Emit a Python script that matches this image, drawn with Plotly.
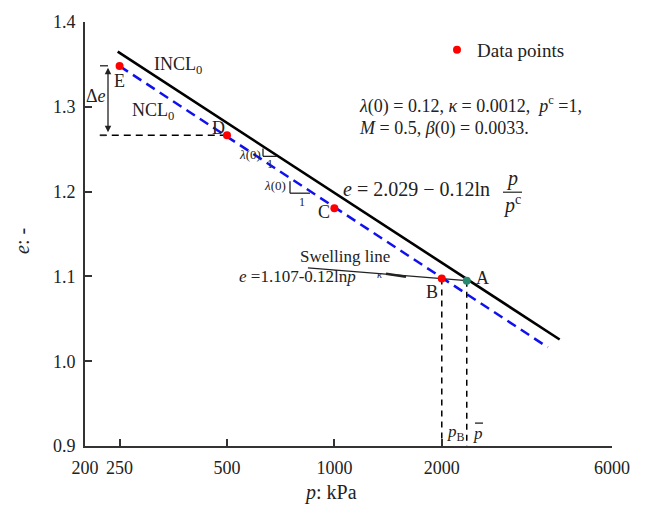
import plotly.graph_objects as go

# ---- data ----
pt_labels = ["E", "D", "C", "B"]
pt_p = [250, 500, 1000, 2000]
pt_e = [1.348, 1.2665, 1.1805, 1.0975]

pointA_p = [2350]
pointA_e = [1.095]

incl_p = [247, 4280]
incl_e = [1.365, 1.0256]

ncl_p = [250, 3965]
ncl_e = [1.348, 1.0164]

swell_p = [843, 2350]
swell_e = [1.110, 1.095]

xtick_vals = [200, 250, 500, 1000, 2000, 6000]
xtick_text = ["200", "250", "500", "1000", "2000", "6000"]
ytick_vals = [0.9, 1.0, 1.1, 1.2, 1.3, 1.4]

W, H = 646, 509
L, R, T, B = 85, 34, 20, 63
PW, PH = W - L - R, H - T - B
FONT = "Liberation Serif"


def px(x):
    return (x - L) / PW


def py(y):
    return (H - B - y) / PH


fig = go.Figure()

fig.add_trace(go.Scatter(x=incl_p, y=incl_e, mode="lines",
                         line=dict(color="black", width=2.6), showlegend=False))
fig.add_trace(go.Scatter(x=ncl_p, y=ncl_e, mode="lines",
                         line=dict(color="#1010ee", width=2.5, dash="10px,6px"),
                         showlegend=False))
fig.add_trace(go.Scatter(x=swell_p, y=swell_e, mode="lines",
                         line=dict(color="#222", width=1.3), showlegend=False))
# vertical dashed lines to the axis
fig.add_trace(go.Scatter(x=[pt_p[3], pt_p[3]], y=[pt_e[3], 0.9], mode="lines",
                         line=dict(color="black", width=1.5, dash="6px,5px"), showlegend=False))
fig.add_trace(go.Scatter(x=[pointA_p[0], pointA_p[0]], y=[pointA_e[0], 0.9], mode="lines",
                         line=dict(color="black", width=1.5, dash="6px,5px"), showlegend=False))
# horizontal dashed from D
fig.add_trace(go.Scatter(x=[220, pt_p[1]], y=[pt_e[1], pt_e[1]], mode="lines",
                         line=dict(color="black", width=1.5, dash="7px,5px"), showlegend=False))

fig.add_trace(go.Scatter(x=pointA_p, y=pointA_e, mode="markers",
                         marker=dict(color="#2a8a70", size=8), showlegend=False))
fig.add_trace(go.Scatter(x=pt_p, y=pt_e, mode="markers", name="Data points",
                         marker=dict(color="#ff0000", size=8), showlegend=True))

ann = []


def text(x, y, s, size=18, xanchor="center", **kw):
    ann.append(dict(x=px(x), y=py(y), xref="paper", yref="paper", text=s,
                    xanchor=xanchor, yanchor="middle",
                    showarrow=False, font=dict(family=FONT, size=size, color="#222"), **kw))


text(178, 64, "INCL<sub>0</sub>", 18)
text(153, 110, "NCL<sub>0</sub>", 18)
text(119, 79, "E", 18)
text(218, 127, "D", 18)
text(324, 211, "C", 18)
text(432, 291, "B", 18)
text(482, 277, "A", 18)
text(96, 94, "Δ<i>e</i>", 18)
text(345, 256, "Swelling line", 17)
text(297, 276, "<i>e</i> =1.107-0.12ln<i>p</i>", 17)
text(380, 273, "<i>κ</i>", 11)
text(250, 153, "<i>λ</i>(0)", 13)
text(270, 163, "1", 12)
text(275, 184, "<i>λ</i>(0)", 13)
text(302, 201, "1", 12)
text(357, 103, "<i>λ</i>(0) = 0.12, <i>κ</i> = 0.0012,  <i>p</i><sup>c</sup> =1,", 18, xanchor="left")
text(357, 127, "<i>M</i> = 0.5, <i>β</i>(0) = 0.0033.", 18, xanchor="left")
text(341, 188, "<i>e</i> = 2.029 − 0.12ln", 20, xanchor="left")
text(512, 177, "<i>p</i>", 20)
text(512, 203, "<i>p</i><sup>c</sup>", 20)
text(456, 433, "<i>p</i><sub>B</sub>", 17)
text(478, 433, "<i>p</i>", 17)
text(330, 493, "<i>p</i>: kPa", 20)
text(22, 240, "<i>e</i>: -", 20, textangle=-90)

# Delta e double arrow
ann.append(dict(x=px(108), y=py(66), ax=0, ay=66, xref="paper", yref="paper",
                axref="pixel", ayref="pixel", showarrow=True, arrowhead=2, arrowside="end+start",
                arrowsize=1, arrowwidth=1.3, arrowcolor="#222", text=""))

shapes = []


def seg(x0, y0, x1, y1, w=1.3):
    shapes.append(dict(type="line", xref="paper", yref="paper", x0=px(x0), y0=py(y0),
                       x1=px(x1), y1=py(y1), line=dict(color="#222", width=w)))


seg(100, 64, 108, 64)
seg(100, 134, 106, 134)
# lambda triangles
seg(263, 147, 263, 155)
seg(263, 155, 277, 155)
seg(290, 180, 290, 192)
seg(290, 192, 310, 192)
# kappa triangle
seg(386, 273, 406, 276, 2.5)
# fraction bar
seg(503, 191, 522, 191, 1.2)
# overbar of p-bar
seg(475, 423, 483, 423, 1.3)

fig.update_layout(
    width=W, height=H, margin=dict(l=L, r=R, t=T, b=B),
    paper_bgcolor="white", plot_bgcolor="white",
    annotations=ann, shapes=shapes,
    font=dict(family=FONT, size=18, color="#222"),
    legend=dict(x=px(437), y=py(29), xanchor="left", yanchor="top",
                font=dict(family=FONT, size=19, color="#222"),
                bgcolor="rgba(0,0,0,0)", itemwidth=30),
    xaxis=dict(type="log", range=[2.30103, 3.77815], tickvals=xtick_vals, ticktext=xtick_text,
               ticks="inside", ticklen=7, tickwidth=1.5, tickcolor="#333",
               showline=True, linecolor="#333", linewidth=2, showgrid=False, zeroline=False,
               ticklabelstandoff=4,
               tickfont=dict(family=FONT, size=18, color="#222")),
    yaxis=dict(range=[0.9, 1.4], tickvals=ytick_vals, tickformat=".1f",
               ticks="inside", ticklen=7, tickwidth=1.5, tickcolor="#333",
               showline=True, linecolor="#333", linewidth=2, showgrid=False, zeroline=False,
               ticklabelstandoff=4,
               tickfont=dict(family=FONT, size=18, color="#222")),
)

fig.write_html("out.html")
